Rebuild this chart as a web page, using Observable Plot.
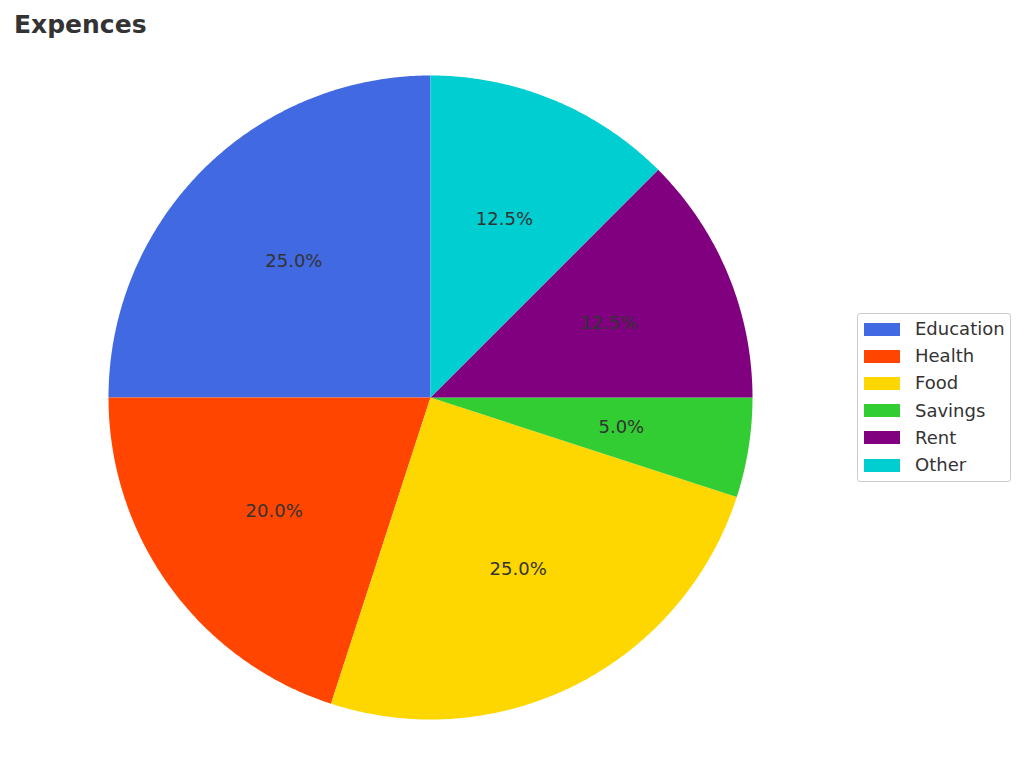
<!DOCTYPE html>
<html>
<head>
<meta charset="utf-8">
<script src="https://cdn.jsdelivr.net/npm/d3@7"></script>
<script src="https://cdn.jsdelivr.net/npm/@observablehq/plot@0.6"></script>
<style>
  body { margin: 0; background: #fff; font-family: "DejaVu Sans", sans-serif; }
  #wrap { position: relative; width: 1024px; height: 765px; }
  #title { height: 45px; box-sizing: border-box; padding: 10px 0 0 14px; font-size: 25px; font-weight: bold; color: #333; line-height: normal; }
  #legend { position: absolute; left: 857px; top: 313px; width: 152px; height: 167px; border: 1px solid #ccc; border-radius: 3px; background: #fff; }
  .row { position: absolute; left: 0; height: 27px; display: flex; align-items: center; }
  .sw { position: absolute; left: 6px; width: 36px; height: 13px; }
  .lb { position: absolute; left: 57px; font-size: 18px; color: #333; white-space: nowrap; line-height: 1; }
</style>
</head>
<body>
<div id="wrap">
  <div id="title">Expences</div>
  <div id="chart"></div>
  <div id="legend"></div>
</div>
<script>
const categories = ["Education", "Health", "Food", "Savings", "Rent", "Other"];
const values = [25, 20, 25, 5, 12.5, 12.5];
const colors = ["#4169E1", "#FF4500", "#FFD700", "#32CD32", "#800080", "#00CED1"];

const total = d3.sum(values);
const startDeg = 90;
const pts = [];
const labels = [];
let cum = 0;
categories.forEach((c, i) => {
  const a0 = startDeg + cum / total * 360;
  const a1 = startDeg + (cum + values[i]) / total * 360;
  pts.push({category: c, x: 0, y: 0});
  const n = Math.max(2, Math.ceil((a1 - a0) * 2));
  for (let k = 0; k <= n; k++) {
    const a = (a0 + (a1 - a0) * k / n) * Math.PI / 180;
    pts.push({category: c, x: Math.cos(a), y: Math.sin(a)});
  }
  pts.push({category: c, x: 0, y: 0});
  const am = (a0 + a1) / 2 * Math.PI / 180;
  labels.push({x: 0.6 * Math.cos(am), y: 0.6 * Math.sin(am), text: (values[i] / total * 100).toFixed(1) + "%"});
  cum += values[i];
});

const chart = Plot.plot({
  width: 1024,
  height: 720,
  marginTop: 30,
  marginBottom: 46,
  marginLeft: 108,
  marginRight: 272,
  x: {domain: [-1, 1], axis: null},
  y: {domain: [-1, 1], axis: null},
  color: {domain: categories, range: colors},
  style: {fontFamily: "DejaVu Sans, sans-serif", background: "#fff"},
  marks: [
    Plot.line(pts, {x: "x", y: "y", z: "category", fill: "category", stroke: "none", curve: "linear"}),
    Plot.text(labels, {x: "x", y: "y", text: "text", fill: "#333", fontSize: 18})
  ]
});
document.getElementById("chart").appendChild(chart);

const leg = document.getElementById("legend");
categories.forEach((c, i) => {
  const row = document.createElement("div");
  row.className = "row";
  row.style.top = (1.5 + i * 27.2) + "px";
  row.style.width = "150px";
  row.innerHTML = `<span class="sw" style="background:${colors[i]}"></span><span class="lb">${c}</span>`;
  leg.appendChild(row);
});
</script>
</body>
</html>
